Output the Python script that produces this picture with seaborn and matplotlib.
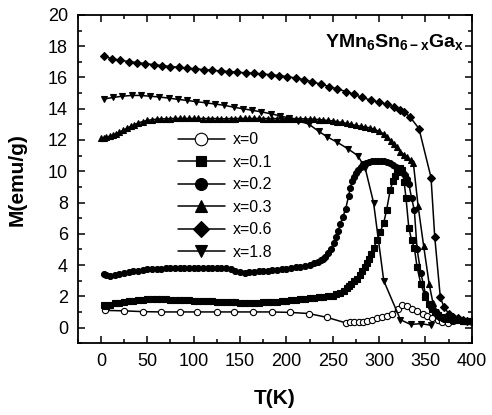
import matplotlib
matplotlib.use('Agg')
import matplotlib.pyplot as plt
import seaborn as sns
import pandas as pd

# ---- data: T(K) and M(emu/g) per Ga content ----
T_x0 = [4, 25, 45, 65, 85, 104, 125, 144, 164, 184, 204, 224, 244, 264, 269, 273, 278, 283,
        287, 292, 298, 303, 309, 314, 320, 325, 330, 336, 341, 347, 352, 357, 363, 368, 374]
M_x0 = [1.1, 1.07, 1.02, 1.0, 1.0, 1.0, 1.0, 1.0, 1.0, 1.0, 0.97, 0.9, 0.65, 0.3, 0.33, 0.37, 0.38, 0.38,
        0.45, 0.5, 0.6, 0.65, 0.75, 0.86, 1.2, 1.45, 1.37, 1.18, 1.03, 0.9, 0.75, 0.6, 0.47, 0.38, 0.32]

T_x01 = [3, 6, 10, 15, 20, 25, 30, 35, 40, 45, 50, 55, 60, 65, 70, 75, 80, 85, 90, 95, 100, 105, 110,
         115, 120, 125, 130, 135, 140, 145, 150, 155, 160, 165, 170, 175, 180, 185, 190, 195, 200, 205,
         210, 215, 220, 225, 230, 235, 240, 245, 250, 254, 258, 262, 265, 268, 270, 273, 276, 279, 282,
         285, 287, 289, 291, 294, 298, 301, 305, 308, 312, 315, 317, 319, 321, 323, 325, 327, 329, 332,
         335, 338, 341, 345, 350, 354, 357, 360, 363, 367, 370, 375, 380, 385, 390, 395, 400]
M_x01 = [1.45, 1.4, 1.45, 1.55, 1.6, 1.65, 1.7, 1.72, 1.75, 1.78, 1.8, 1.8, 1.8, 1.8, 1.8, 1.79, 1.78,
         1.77, 1.75, 1.74, 1.72, 1.71, 1.7, 1.69, 1.68, 1.66, 1.65, 1.63, 1.62, 1.61, 1.6, 1.6, 1.6, 1.6,
         1.6, 1.61, 1.62, 1.63, 1.65, 1.68, 1.7, 1.74, 1.78, 1.82, 1.85, 1.88, 1.9, 1.93, 1.95, 2.0,
         2.05, 2.12, 2.2, 2.35, 2.5, 2.65, 2.8, 2.95, 3.1, 3.35, 3.6, 3.85, 4.1, 4.4, 4.7, 5.1, 5.6, 6.1,
         6.7, 7.5, 8.8, 9.4, 9.7, 9.95, 10.15, 10.2, 10.1, 9.3, 8.3, 6.4, 5.6, 5.1, 3.85, 2.8, 1.95, 1.5,
         1.2, 1.0, 0.8, 0.7, 0.6, 0.55, 0.5, 0.47, 0.45, 0.42, 0.4]

T_x02 = [3, 6, 10, 15, 20, 25, 30, 35, 40, 45, 50, 55, 60, 65, 70, 75, 80, 85, 90, 95, 100, 105, 110,
         115, 120, 125, 130, 135, 140, 145, 150, 155, 160, 165, 170, 175, 180, 185, 190, 195, 200, 205,
         210, 215, 220, 225, 230, 234, 237, 240, 242, 245, 248, 251, 253, 256, 258, 261, 264, 267, 269,
         271, 273, 275, 277, 280, 283, 286, 289, 292, 296, 299, 302, 305, 308, 312, 315, 318, 321, 323,
         326, 328, 330, 332, 335, 338, 341, 345, 350, 356, 363, 370, 380, 390, 400]
M_x02 = [3.45, 3.35, 3.3, 3.35, 3.45, 3.5, 3.55, 3.6, 3.65, 3.68, 3.72, 3.74, 3.75, 3.76, 3.78, 3.79,
         3.8, 3.79, 3.78, 3.79, 3.8, 3.79, 3.78, 3.79, 3.8, 3.81, 3.82, 3.8, 3.75, 3.65, 3.55, 3.5, 3.55,
         3.57, 3.6, 3.62, 3.65, 3.67, 3.7, 3.72, 3.75, 3.8, 3.85, 3.9, 3.95, 4.02, 4.1, 4.2, 4.3, 4.4,
         4.5, 4.75, 5.0, 5.4, 5.8, 6.2, 6.6, 7.1, 7.6, 8.4, 8.95, 9.4, 9.65, 9.9, 10.1, 10.3, 10.45, 10.55,
         10.6, 10.63, 10.66, 10.66, 10.65, 10.63, 10.6, 10.5, 10.42, 10.3, 10.15, 10.06, 9.9, 9.75, 9.5,
         9.2, 8.3, 7.5, 5.0, 3.5, 2.15, 1.3, 0.75, 0.55, 0.45, 0.4, 0.38]

T_x03 = [0, 3, 6, 10, 13, 16, 20, 24, 28, 32, 36, 40, 45, 50, 55, 60, 65, 70, 75, 80, 85, 90, 95, 100,
         105, 110, 115, 120, 125, 130, 135, 140, 145, 150, 155, 160, 165, 170, 175, 180, 185, 190, 195,
         200, 205, 210, 215, 220, 225, 230, 235, 240, 245, 250, 255, 260, 265, 270, 275, 280, 285, 290,
         295, 300, 305, 309, 313, 316, 319, 323, 327, 330, 334, 337, 342, 348, 354, 358, 363, 370, 380,
         390, 400]
M_x03 = [12.1, 12.12, 12.18, 12.25, 12.32, 12.4, 12.5, 12.62, 12.75, 12.87, 12.98, 13.08, 13.18, 13.25,
         13.3, 13.33, 13.35, 13.36, 13.37, 13.38, 13.38, 13.38, 13.38, 13.38, 13.38, 13.37, 13.37, 13.37,
         13.37, 13.36, 13.36, 13.37, 13.37, 13.38, 13.38, 13.38, 13.38, 13.38, 13.37, 13.37, 13.37, 13.37,
         13.37, 13.37, 13.37, 13.37, 13.36, 13.35, 13.34, 13.33, 13.31, 13.28, 13.25, 13.22, 13.17, 13.12,
         13.06, 13.0, 12.94, 12.88, 12.83, 12.78, 12.68, 12.55, 12.4, 12.2, 11.95, 11.75, 11.55, 11.25,
         11.05, 10.9, 10.7, 10.5, 7.8, 5.24, 2.78, 1.6, 1.0, 0.7, 0.5, 0.45, 0.4]

T_x06 = [3, 12, 21, 30, 39, 48, 57, 66, 75, 84, 93, 102, 111, 120, 129, 138, 147, 156, 165, 174, 183,
         192, 201, 210, 219, 228, 237, 246, 255, 264, 273, 282, 291, 300, 309, 316, 322, 327, 333, 343,
         356, 360, 366, 370, 375, 380, 385, 390, 395, 400]
M_x06 = [17.35, 17.2, 17.1, 17.02, 16.95, 16.88, 16.82, 16.76, 16.7, 16.65, 16.6, 16.55, 16.5, 16.46,
         16.42, 16.38, 16.33, 16.3, 16.26, 16.22, 16.18, 16.12, 16.05, 15.97, 15.85, 15.72, 15.57, 15.42,
         15.27, 15.1, 14.92, 14.72, 14.55, 14.42, 14.28, 14.1, 13.9, 13.78, 13.5, 12.73, 9.6, 5.8, 1.95,
         1.3, 0.9, 0.7, 0.6, 0.5, 0.45, 0.4]

T_x18 = [3, 13, 23, 33, 43, 53, 63, 73, 83, 93, 103, 113, 123, 133, 143, 153, 163, 173, 183, 193, 203,
         213, 224, 235, 244, 255, 266, 277, 285, 294, 305, 323, 334, 345, 356]
M_x18 = [14.62, 14.72, 14.8, 14.85, 14.85, 14.8, 14.75, 14.68, 14.6, 14.53, 14.45, 14.38, 14.3, 14.22,
         14.1, 14.0, 13.9, 13.8, 13.68, 13.55, 13.4, 13.22, 13.02, 12.55, 12.2, 11.85, 11.45, 11.0, 10.2,
         8.0, 3.0, 0.5, 0.2, 0.25, 0.15]

labels = ['x=0', 'x=0.1', 'x=0.2', 'x=0.3', 'x=0.6', 'x=1.8']
marker_list = ['o', 's', 'o', '^', 'D', 'v']
face_list = ['white', 'black', 'black', 'black', 'black', 'black']
size_list = [4.5, 3.8, 4.3, 4.6, 4.0, 4.6]

series = [(T_x0, M_x0), (T_x01, M_x01), (T_x02, M_x02), (T_x03, M_x03), (T_x06, M_x06), (T_x18, M_x18)]

# ---- style ----
sns.set_style("ticks")
plt.rcParams['font.family'] = ['Liberation Sans', 'DejaVu Sans']
plt.rcParams['mathtext.fontset'] = 'custom'
plt.rcParams['mathtext.rm'] = 'Liberation Sans'
plt.rcParams['mathtext.bf'] = 'Liberation Sans:bold'
plt.rcParams['text.color'] = 'black'
plt.rcParams['axes.labelcolor'] = 'black'
plt.rcParams['xtick.color'] = 'black'
plt.rcParams['ytick.color'] = 'black'

fig = plt.figure(figsize=(4.92, 4.15), dpi=100)
ax = fig.add_axes([0.158, 0.173, 0.801, 0.791])

for (T, M), lab, mk, fc, ms in zip(series, labels, marker_list, face_list, size_list):
    df = pd.DataFrame({'T': T, 'M': M})
    sns.lineplot(data=df, x='T', y='M', ax=ax, color='black', linewidth=1.1,
                 marker=mk, markersize=ms, markerfacecolor=fc, markeredgecolor='black',
                 markeredgewidth=0.8, label=lab, estimator=None, sort=False)

ax.set_xlim(-25, 400)
ax.set_ylim(-1, 20)
ax.set_xticks(range(0, 401, 50))
ax.set_xticks(range(-25, 401, 25), minor=True)
ax.set_yticks(range(0, 21, 2))
ax.set_yticks(range(-1, 21, 1), minor=True)
ax.tick_params(which='both', direction='in', top=True, right=True, width=1.1, colors='black')
ax.tick_params(which='major', length=5, labelsize=13, pad=7)
ax.tick_params(which='minor', length=3)
for sp in ax.spines.values():
    sp.set_linewidth(1.3)
    sp.set_color('black')

ax.set_xlabel('T(K)', fontsize=15, fontweight='bold', labelpad=14)
ax.set_ylabel('M(emu/g)', fontsize=15, fontweight='bold', labelpad=15)

ax.text(242, 17.95, r'$\mathbf{YMn_6Sn_{6-x}Ga_x}$', fontsize=14, ha='left', va='baseline')

ax.legend(loc='upper left', bbox_to_anchor=(0.255, 0.643), frameon=False, fontsize=11.5,
          handlelength=2.9, handletextpad=0.5, labelspacing=0.47, borderpad=0, borderaxespad=0,
          markerscale=2.0)

fig.savefig('out.png', dpi=100)
